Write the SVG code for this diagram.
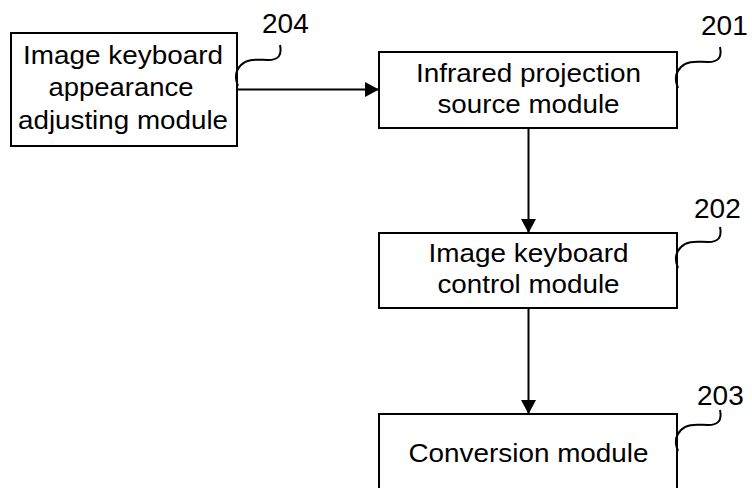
<svg xmlns="http://www.w3.org/2000/svg" width="752" height="488" viewBox="0 0 752 488">
<defs>
<style>
.box{fill:#fff;stroke:#000;stroke-width:2}
.t{font-family:"Liberation Sans",Arial,sans-serif;font-size:26px;fill:#000;text-anchor:middle}
.n{font-family:"Liberation Sans",Arial,sans-serif;font-size:28px;fill:#000}
.lead{fill:none;stroke:#000;stroke-width:2}
.conn{fill:none;stroke:#000;stroke-width:2}
</style>
<marker id="arr" markerUnits="userSpaceOnUse" markerWidth="16" markerHeight="16" refX="14" refY="7.5" orient="auto">
<path d="M0,0 L14,7.5 L0,15 Z" fill="#000"/>
</marker>
<path id="ld" d="M43,0 C45,10 42,15 31,15 C20,15 11,13 4,20 C-2,26 -2,34 1,41"/>
</defs>
<rect width="752" height="488" fill="#fff"/>
<g id="connectors">
<line class="conn" x1="237" y1="89.5" x2="379" y2="89.5" marker-end="url(#arr)"/>
<line class="conn" x1="528.5" y1="128" x2="528.5" y2="233" marker-end="url(#arr)"/>
<line class="conn" x1="528.5" y1="308" x2="528.5" y2="414" marker-end="url(#arr)"/>
</g>
<g id="node204">
<rect class="box" x="11" y="33" width="226" height="113"/>
<text class="t" x="123" y="63.5" textLength="200" lengthAdjust="spacingAndGlyphs">Image keyboard</text>
<text class="t" x="121" y="96" textLength="145" lengthAdjust="spacingAndGlyphs">appearance</text>
<text class="t" x="123" y="128.5" textLength="210" lengthAdjust="spacingAndGlyphs">adjusting module</text>
<use href="#ld" class="lead" transform="translate(237,45)"/>
<text class="n" x="262" y="33.3">204</text>
</g>
<g id="node201">
<rect class="box" x="379" y="52" width="298" height="76"/>
<text class="t" x="528.5" y="81.7" textLength="225" lengthAdjust="spacingAndGlyphs">Infrared projection</text>
<text class="t" x="528.5" y="113.3" textLength="182" lengthAdjust="spacingAndGlyphs">source module</text>
<use href="#ld" class="lead" transform="translate(677,47)"/>
<text class="n" x="701" y="35">201</text>
</g>
<g id="node202">
<rect class="box" x="379" y="233" width="298" height="75"/>
<text class="t" x="528.5" y="261.7" textLength="200" lengthAdjust="spacingAndGlyphs">Image keyboard</text>
<text class="t" x="528.5" y="293.3" textLength="182" lengthAdjust="spacingAndGlyphs">control module</text>
<use href="#ld" class="lead" transform="translate(677,227)"/>
<text class="n" x="694" y="218">202</text>
</g>
<g id="node203">
<rect class="box" x="379" y="414" width="298" height="100"/>
<text class="t" x="528.5" y="461.7" textLength="240" lengthAdjust="spacingAndGlyphs">Conversion module</text>
<use href="#ld" class="lead" transform="translate(677,410)"/>
<text class="n" x="697" y="405">203</text>
</g>
</svg>
